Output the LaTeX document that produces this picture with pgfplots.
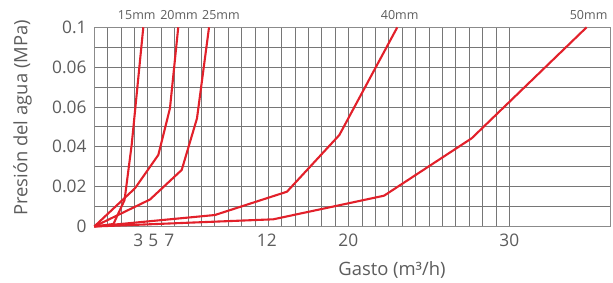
\documentclass[border=0pt]{standalone}
\usepackage{fontspec}
\setmainfont{Open Sans}
\usepackage{pgfplots}
\pgfplotsset{compat=1.18}
\definecolor{txt}{HTML}{5C5C5C}
\definecolor{gridc}{HTML}{767676}
\definecolor{curve}{HTML}{E2202A}
\begin{document}
\begin{tikzpicture}
\useasboundingbox (0,0) rectangle (613pt,282pt);
\begin{axis}[
  at={(94.3pt,55.5pt)}, anchor=south west,
  scale only axis, width=516.4pt, height=199.2pt,
  xmin=0, xmax=38.57, ymin=0, ymax=0.1,
  xtick={3.29,4.41,5.6,12.88,18.97,31},
  xticklabels={3,5,7,12,20,30},
  ytick={0,0.02,0.04,0.06,0.08,0.1},
  yticklabels={0,0.02,0.04,0.06,0.06,0.1},
  minor xtick={0,1,...,31},
  minor ytick={0,0.01,0.02,0.03,0.04,0.05,0.06,0.07,0.08,0.09,0.1},
  major tick length=0pt, minor tick length=0pt,
  grid=minor,
  minor grid style={draw=gridc, line width=0.9pt},
  axis line style={draw=gridc!85, line width=0.9pt},
  tick label style={font=\fontsize{17.3}{20}\selectfont, text=txt},
  xticklabel style={anchor=north, inner sep=0pt, yshift=-7pt},
  yticklabel style={anchor=east, inner sep=0pt, xshift=-7.6pt},
  label style={font=\fontsize{18.4}{21}\selectfont, text=txt},
  xlabel={Gasto (m³/h)},
  ylabel={Presión del agua (MPa)},
  xlabel style={at={(rel axis cs:0.5765,-0.247)}, anchor=base},
  ylabel style={at={(rel axis cs:-0.139,0.545)}, anchor=center},
  clip=false,
]
% 15mm
\addplot[curve, line width=2.1pt, line join=round] coordinates {
 (0,0) (1.43,0.00126) (2.26,0.0133) (2.79,0.0409) (3.66,0.1)};
% 20mm
\addplot[curve, line width=2.1pt, line join=round] coordinates {
 (0,0) (3.04,0.0192) (4.78,0.0359) (5.65,0.0593) (6.27,0.1)};
% 25mm
\addplot[curve, line width=2.1pt, line join=round] coordinates {
 (0,0) (4.16,0.01355) (6.53,0.0284) (7.67,0.0543) (8.57,0.1)};
% 40mm
\addplot[curve, line width=2.1pt, line join=round] coordinates {
 (0,0) (9.01,0.00577) (14.39,0.01747) (18.30,0.0459) (22.63,0.1)};
% 50mm
\addplot[curve, line width=2.1pt, line join=round] coordinates {
 (0,0) (13.37,0.00361) (21.64,0.01546) (28.19,0.0443) (36.77,0.1)};
\node[font=\fontsize{12.5}{14}\selectfont, text=txt, yshift=11.8pt] at (axis cs:3.17,0.1) {15mm};
\node[font=\fontsize{12.5}{14}\selectfont, text=txt, yshift=11.8pt] at (axis cs:6.33,0.1) {20mm};
\node[font=\fontsize{12.5}{14}\selectfont, text=txt, yshift=11.8pt] at (axis cs:9.46,0.1) {25mm};
\node[font=\fontsize{12.5}{14}\selectfont, text=txt, yshift=11.8pt] at (axis cs:22.81,0.1) {40mm};
\node[font=\fontsize{12.5}{14}\selectfont, text=txt, yshift=11.8pt] at (axis cs:36.92,0.1) {50mm};
\end{axis}
\end{tikzpicture}
\end{document}
